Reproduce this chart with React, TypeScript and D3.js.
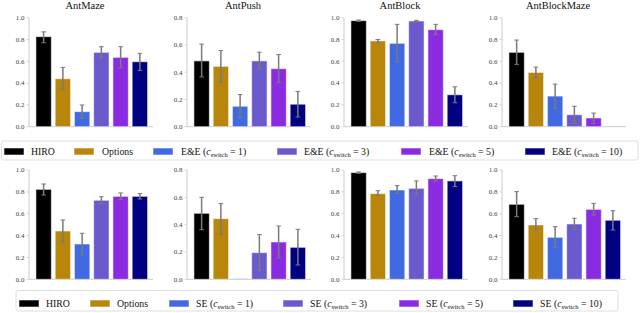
import * as d3 from "d3";

// task names + y-axis maxima
const tasks = ["AntMaze", "AntPush", "AntBlock", "AntBlockMaze"];
const yMaxes = [1.0, 0.8, 1.0, 1.0];

const methods = ["HIRO", "Options", "c1", "c3", "c5", "c10"];
const switchValues = [1, 3, 5, 10];
const colors = ["#000000", "#b8860b", "#4169e1", "#6a5acd", "#8a2be2", "#000080"];

// top row: E&E
const eeMeans = [
  [0.826, 0.44, 0.138, 0.682, 0.636, 0.596],
  [0.483, 0.443, 0.15, 0.483, 0.426, 0.165],
  [0.973, 0.787, 0.765, 0.97, 0.89, 0.293],
  [0.682, 0.498, 0.281, 0.11, 0.08, 0.0],
];
const eeLo = [
  [0.77, 0.343, 0.076, 0.633, 0.541, 0.517],
  [0.365, 0.328, 0.067, 0.424, 0.323, 0.071],
  [0.967, 0.768, 0.595, 0.964, 0.848, 0.22],
  [0.572, 0.446, 0.168, 0.028, 0.028, 0.0],
];
const eeHi = [
  [0.87, 0.544, 0.199, 0.734, 0.734, 0.673],
  [0.606, 0.559, 0.236, 0.547, 0.53, 0.259],
  [0.979, 0.8, 0.939, 0.976, 0.939, 0.366],
  [0.795, 0.547, 0.391, 0.187, 0.125, 0.0],
];

// bottom row: SE
const seMeans = [
  [0.823, 0.442, 0.323, 0.723, 0.759, 0.759],
  [0.483, 0.444, 0.004, 0.195, 0.273, 0.234],
  [0.976, 0.784, 0.817, 0.832, 0.921, 0.9],
  [0.686, 0.497, 0.384, 0.506, 0.64, 0.54],
];
const seLo = [
  [0.771, 0.341, 0.223, 0.689, 0.732, 0.735],
  [0.363, 0.327, 0.004, 0.068, 0.156, 0.105],
  [0.97, 0.768, 0.784, 0.771, 0.9, 0.848],
  [0.573, 0.448, 0.29, 0.454, 0.588, 0.451],
];
const seHi = [
  [0.872, 0.543, 0.421, 0.756, 0.79, 0.784],
  [0.6, 0.554, 0.004, 0.327, 0.39, 0.366],
  [0.982, 0.811, 0.857, 0.9, 0.945, 0.948],
  [0.802, 0.555, 0.482, 0.558, 0.695, 0.628],
];

const FONT = '"Liberation Serif", "Times New Roman", Times, serif';
const axisXs = [29, 187, 344, 502];
const PLOT_W = 124;
const AXIS_COLOR = "#cccccc";
const ERR_COLOR = "#7a7a7a";

function Panel({ x0, top, bottom, max, means, lo, hi, title }: any) {
  const x = d3.scaleBand().domain(methods).range([x0 + 5, x0 + 120.5]).paddingInner(0.2).paddingOuter(0.1);
  const y = d3.scaleLinear().domain([0, max]).range([bottom, top]);
  const ticks = d3.range(0, max + 1e-9, 0.2);
  const fmt = d3.format(".1f");
  const cap = 2.3;
  return (
    <g>
      {title && (
        <text x={x0 + PLOT_W / 2 - 6} y={top - 9} textAnchor="middle" fontSize={10.5} fill="#111">
          {title}
        </text>
      )}
      <line x1={x0} x2={x0} y1={y(max)} y2={y(0)} stroke={AXIS_COLOR} strokeWidth={1} />
      <line x1={x0} x2={x0 + PLOT_W} y1={y(0)} y2={y(0)} stroke={AXIS_COLOR} strokeWidth={1} />
      {ticks.map((t) => (
        <g key={t}>
          <line x1={x0 - 2.5} x2={x0} y1={y(t)} y2={y(t)} stroke={AXIS_COLOR} strokeWidth={0.8} />
          <text x={x0 - 4.5} y={y(t)} dy="0.33em" textAnchor="end" fontSize={7} fill="#444">
            {fmt(t)}
          </text>
        </g>
      ))}
      {methods.map((m, i) => {
        const bx = x(m)!;
        const bw = x.bandwidth();
        const cx = bx + bw / 2;
        return (
          <g key={m}>
            <rect
              x={bx}
              y={y(means[i])}
              width={bw}
              height={Math.max(0, y(0) - y(means[i]))}
              fill={colors[i]}
              stroke="#ffffff"
              strokeOpacity={0.55}
              strokeWidth={1}
            />
            {hi[i] > lo[i] && (
              <g stroke={ERR_COLOR}>
                <line x1={cx} x2={cx} y1={y(lo[i])} y2={y(hi[i])} strokeWidth={1.5} />
                <line x1={cx - cap} x2={cx + cap} y1={y(lo[i])} y2={y(lo[i])} strokeWidth={1} />
                <line x1={cx - cap} x2={cx + cap} y1={y(hi[i])} y2={y(hi[i])} strokeWidth={1} />
              </g>
            )}
          </g>
        );
      })}
    </g>
  );
}

function Legend({ box, swatchXs, textXs, baseline, prefix }: any) {
  return (
    <g>
      <rect x={box[0]} y={box[1]} width={box[2]} height={box[3]} rx={2} fill="#fff" stroke="#d6d6d6" strokeWidth={0.8} />
      {methods.map((m, i) => (
        <g key={m}>
          <rect
            x={swatchXs[i]}
            y={baseline - 7}
            width={20}
            height={7}
            fill={colors[i]}
            stroke="#ffffff"
            strokeOpacity={0.55}
            strokeWidth={1}
          />
          <text x={textXs[i]} y={baseline} fontSize={9.8} fill="#111">
            {i < 2 ? (
              m
            ) : (
              <>
                {prefix} (<tspan fontStyle="italic">c</tspan>
                <tspan fontSize={6.5} dy={1.8}>switch</tspan>
                <tspan dy={-1.8}> = {switchValues[i - 2]})</tspan>
              </>
            )}
          </text>
        </g>
      ))}
    </g>
  );
}

export default function App() {
  return (
    <svg
      width={640}
      height={313}
      style={{ position: "absolute", left: 0, top: 0, background: "#fff", fontFamily: FONT }}
    >
      {tasks.map((t, k) => (
        <Panel
          key={"top" + t}
          x0={axisXs[k]}
          top={17.7}
          bottom={126.7}
          max={yMaxes[k]}
          means={eeMeans[k]}
          lo={eeLo[k]}
          hi={eeHi[k]}
          title={t}
        />
      ))}
      {tasks.map((t, k) => (
        <Panel
          key={"bot" + t}
          x0={axisXs[k]}
          top={170}
          bottom={279.3}
          max={yMaxes[k]}
          means={seMeans[k]}
          lo={seLo[k]}
          hi={seHi[k]}
        />
      ))}
      <Legend
        box={[1.5, 141, 636.5, 19]}
        swatchXs={[4, 74, 153, 277, 401, 525]}
        textXs={[31, 102, 181, 304, 429, 552]}
        baseline={155}
        prefix="E&E"
      />
      <Legend
        box={[16, 290.5, 602, 20.5]}
        swatchXs={[19, 90, 169, 283, 399, 513]}
        textXs={[46, 117, 196, 310, 426, 540]}
        baseline={307}
        prefix="SE"
      />
    </svg>
  );
}
